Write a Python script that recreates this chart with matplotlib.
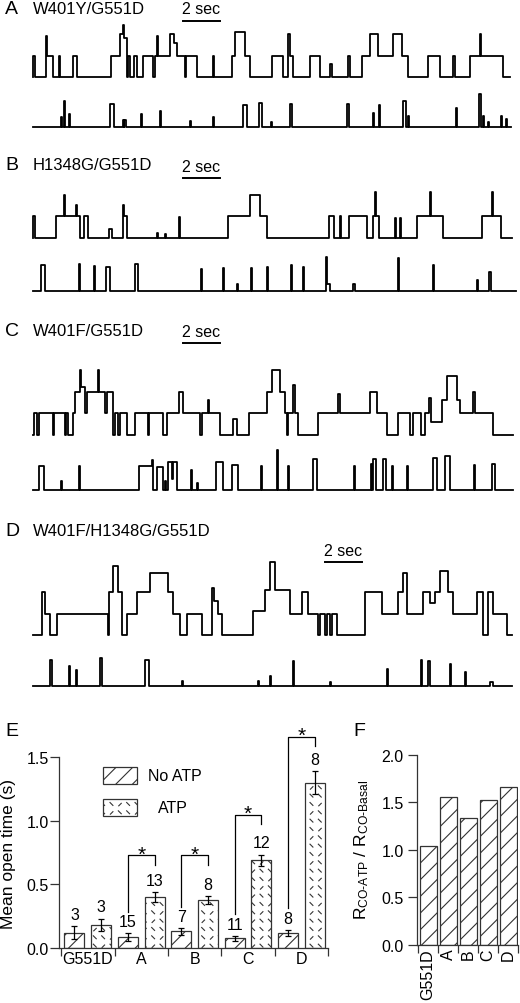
import numpy as np
import matplotlib
matplotlib.use("Agg")
import matplotlib.pyplot as plt
import matplotlib.hatch as mhatch
from matplotlib.path import Path
from matplotlib.patches import Rectangle

plt.rcParams['font.family'] = ['Liberation Sans', 'DejaVu Sans']
plt.rcParams['mathtext.fontset'] = 'custom'
plt.rcParams['mathtext.rm'] = 'Liberation Sans'
plt.rcParams['mathtext.it'] = 'Liberation Sans:italic'
plt.rcParams['hatch.linewidth'] = 0.8

##### data #####################################################
# single channel traces: (start s, end s, level in unitary openings)
a_top = [
    (0.02, 0.13, 1.0), (0.70, 0.77, 1.9), (0.77, 1.06, 1.0), (1.39, 1.46, 1.0),
    (2.14, 2.36, 1.0), (4.20, 4.70, 1.0), (4.70, 4.85, 2.0), (4.85, 4.92, 2.4),
    (4.92, 5.06, 1.8), (5.15, 5.24, 1.0), (5.46, 5.64, 1.0), (5.96, 6.50, 1.0),
    (6.59, 6.68, 1.0), (6.68, 6.77, 1.9), (6.77, 7.41, 1.0), (7.41, 7.60, 2.0),
    (7.60, 7.77, 1.6), (7.77, 8.20, 1.0), (8.25, 8.85, 1.0), (9.71, 9.78, 1.0),
    (10.74, 10.92, 1.0), (10.92, 11.46, 2.1), (11.46, 11.73, 1.0),
    (12.90, 13.53, 1.0), (13.80, 13.89, 2.0), (13.89, 14.07, 1.0),
    (14.97, 15.51, 1.0), (16.05, 16.14, 0.6), (17.05, 17.14, 1.0),
    (17.77, 18.22, 1.0), (18.22, 18.67, 2.0), (18.67, 19.48, 1.0),
    (19.48, 19.93, 2.0), (19.93, 20.29, 1.0), (21.37, 22.00, 1.0),
    (22.72, 22.81, 1.0), (23.62, 24.14, 1.0), (24.14, 24.23, 2.0), (24.23, 25.42, 1.0),
]
a_bot = [
    (1.50, 1.56, 0.45), (1.68, 1.74, 1.2), (1.95, 2.01, 0.6), (4.16, 4.38, 1.05),
    (4.85, 4.91, 0.3), (4.94, 5.00, 0.3), (5.84, 5.90, 0.6), (6.86, 6.92, 0.7),
    (8.49, 8.55, 0.25), (9.71, 9.77, 0.45), (11.37, 11.55, 1.0), (12.20, 12.40, 1.1),
    (12.85, 12.91, 0.2), (13.89, 14.00, 1.05), (16.95, 17.10, 1.05),
    (18.36, 18.42, 0.65), (18.68, 18.74, 1.0), (19.98, 20.16, 1.2), (20.29, 20.35, 0.5),
    (22.86, 22.92, 0.85), (24.13, 24.19, 1.5), (24.34, 24.40, 0.5), (24.61, 24.67, 0.2),
    (25.28, 25.34, 0.5), (25.57, 25.63, 0.35),
]
b_top = [
    (0.02, 0.09, 1.0), (1.24, 1.68, 1.0), (1.68, 1.74, 2.0), (1.74, 2.32, 1.0),
    (2.32, 2.38, 1.5), (2.38, 2.54, 1.0), (2.76, 2.99, 1.0), (4.13, 4.25, 0.4),
    (4.85, 4.91, 1.5), (4.91, 5.06, 1.0), (6.68, 6.74, 0.2), (7.14, 7.20, 0.15),
    (7.89, 7.95, 0.95), (10.56, 11.73, 1.0), (11.73, 12.27, 2.0), (12.27, 12.63, 1.0),
    (16.00, 16.27, 1.0), (16.59, 16.65, 1.0), (17.10, 18.04, 1.0),
    (18.40, 18.49, 1.0), (18.49, 18.55, 2.1), (18.55, 18.72, 1.0),
    (19.57, 19.63, 0.9), (19.84, 19.90, 0.9), (20.77, 21.46, 1.0),
    (21.46, 21.52, 2.1), (21.52, 22.18, 1.0), (24.25, 24.79, 1.0),
    (24.79, 24.85, 2.1), (24.85, 25.28, 1.0),
]
b_bot = [
    (0.41, 0.65, 1.2), (2.49, 2.55, 1.25), (3.30, 3.36, 1.15), (3.95, 4.16, 1.1),
    (5.51, 5.69, 1.25), (9.06, 9.12, 1.0), (10.25, 10.31, 1.05), (11.01, 11.07, 0.3),
    (11.78, 11.84, 1.05), (12.63, 12.69, 1.1), (13.95, 14.01, 1.2), (14.58, 14.64, 1.1),
    (15.84, 15.90, 1.55), (15.90, 16.05, 0.3), (17.32, 17.38, 0.3),
    (19.75, 19.81, 1.5), (21.64, 21.70, 1.2), (24.02, 24.08, 0.5), (24.67, 24.73, 0.85),
]
c_top = [
    (0.05, 0.20, 1.0), (0.34, 1.10, 1.0), (1.15, 1.73, 1.0), (1.78, 1.91, 1.0),
    (2.18, 2.27, 1.0), (2.27, 2.54, 2.0), (2.54, 2.61, 3.0), (2.61, 2.81, 2.2),
    (2.81, 2.94, 1.0), (2.94, 3.50, 2.0), (3.50, 3.57, 3.0), (3.57, 3.89, 2.0),
    (3.89, 3.98, 1.0), (3.98, 4.34, 2.0), (4.43, 4.61, 1.0), (4.70, 5.06, 1.0),
    (5.51, 6.23, 1.0), (6.29, 7.05, 1.0), (7.23, 7.91, 1.0), (7.91, 8.13, 2.0),
    (8.13, 9.03, 1.0), (9.12, 9.48, 1.0), (9.48, 9.53, 1.6), (9.53, 10.11, 1.0),
    (10.83, 11.05, 0.7), (11.69, 12.63, 1.0), (12.63, 12.90, 2.0), (12.90, 13.35, 3.0),
    (13.35, 13.62, 2.0), (13.62, 13.71, 1.0), (13.80, 14.07, 1.0), (14.07, 14.14, 2.3),
    (14.14, 14.34, 1.0), (15.42, 16.50, 1.0), (16.50, 16.58, 1.9), (16.58, 18.22, 1.0),
    (18.22, 18.58, 2.0), (18.58, 19.12, 1.0), (19.75, 20.38, 1.0), (20.56, 20.95, 1.0),
    (21.19, 21.42, 1.0), (21.42, 21.50, 1.7), (21.50, 22.09, 0.6), (22.09, 22.36, 1.6),
    (22.36, 22.90, 2.7), (22.90, 23.08, 1.6), (23.08, 23.80, 1.0), (23.80, 23.87, 2.0),
    (23.87, 24.88, 1.0),
]
c_bot = [
    (0.34, 0.59, 1.1), (1.50, 1.56, 0.4), (2.50, 2.56, 1.1), (5.75, 6.41, 1.1),
    (6.41, 6.47, 1.35), (6.68, 7.05, 1.05), (7.14, 7.20, 0.4), (7.32, 7.50, 1.3),
    (7.50, 7.59, 0.5), (7.59, 7.77, 1.3), (8.52, 8.58, 0.9), (8.85, 8.91, 0.3),
    (9.89, 10.25, 1.3), (10.77, 11.10, 1.15), (12.32, 12.38, 1.1), (13.17, 13.23, 1.85),
    (13.80, 13.86, 1.1), (15.15, 15.33, 1.4), (17.35, 17.41, 1.1), (18.25, 18.31, 1.2),
    (18.36, 18.54, 1.4), (18.90, 19.08, 1.4), (19.39, 19.45, 1.1), (20.20, 20.26, 1.1),
    (21.64, 21.82, 1.45), (22.27, 22.54, 1.55), (23.84, 23.90, 1.15), (24.79, 24.97, 1.2),
]
d_top = [
    (0.47, 0.65, 2.0), (0.65, 0.92, 1.0), (1.28, 4.07, 1.0), (4.13, 4.34, 2.0),
    (4.34, 4.61, 3.2), (4.61, 4.79, 2.0), (5.06, 5.60, 1.0), (5.60, 6.32, 2.0),
    (6.32, 7.32, 2.9), (7.32, 7.59, 2.0), (7.59, 7.95, 1.0), (8.31, 9.12, 1.0),
    (9.66, 9.80, 2.2), (9.80, 10.02, 1.6), (10.02, 10.20, 1.0), (11.91, 12.54, 1.1),
    (12.54, 12.81, 2.1), (12.81, 13.08, 3.4), (13.08, 13.89, 2.1), (13.89, 14.52, 1.0),
    (14.52, 14.88, 2.0), (14.88, 15.42, 1.0), (15.51, 15.78, 1.0), (15.87, 16.05, 1.0),
    (16.14, 16.41, 1.0), (17.95, 18.85, 2.0), (18.85, 19.75, 1.0), (19.75, 20.02, 2.0),
    (20.02, 20.20, 2.9), (20.20, 21.10, 1.0), (21.10, 21.46, 2.0), (21.46, 21.73, 1.5),
    (21.73, 22.00, 2.0), (22.00, 22.45, 3.0), (22.45, 22.72, 2.0), (22.72, 23.98, 1.0),
    (23.98, 24.34, 2.0), (24.61, 24.88, 2.0), (24.88, 25.60, 1.0),
]
d_bot = [
    (0.92, 1.03, 1.2), (1.95, 2.01, 0.9), (2.31, 2.37, 0.7), (3.62, 3.75, 1.3),
    (6.05, 6.27, 1.2), (8.04, 8.10, 0.2), (12.18, 12.24, 0.2), (12.81, 12.87, 0.45),
    (14.04, 14.10, 1.15), (16.05, 16.11, 0.15), (19.12, 19.18, 0.75),
    (20.95, 21.01, 1.2), (21.37, 21.48, 1.15), (22.54, 22.60, 1.0), (23.35, 23.41, 0.65),
    (24.70, 24.85, 0.15),
]
trace_end = [25.78, 25.85, 25.87, 26.11, 25.96, 25.96, 25.87, 25.87]

panel_names = ['W401Y/G551D', 'H1348G/G551D', 'W401F/G551D', 'W401F/H1348G/G551D']

# E: mean open time
groups = ['G551D', 'A', 'B', 'C', 'D']
open_noatp = [0.12, 0.085, 0.13, 0.075, 0.12]
open_noatp_err = [0.05, 0.03, 0.025, 0.02, 0.022]
open_atp = [0.18, 0.40, 0.38, 0.69, 1.30]
open_atp_err = [0.05, 0.04, 0.03, 0.045, 0.09]
n_noatp = [3, 15, 7, 11, 8]
n_atp = [3, 13, 8, 12, 8]
sig_top = [0.73, 0.73, 1.05, 1.66]   # brackets for A-D

# F: ratio
ratio = [1.04, 1.56, 1.34, 1.53, 1.66]
###############################################################


class DashHatch(mhatch.HatchPatternBase):
    # short broken dashes, used instead of the small circles for 'o'
    def __init__(self, hatch, density):
        self.cells = int(hatch.count('o') * density * 2)
        self.num_vertices = self.cells * self.cells * 2

    def set_vertices_and_codes(self, vertices, codes):
        n = self.cells
        c = 1.0 / n
        k = 0
        for i in range(n):
            for j in range(n):
                x, y = i * c, j * c
                if (i + 2 * j) % 3 == 0:
                    vertices[k] = (x + 0.25 * c, y + 0.30 * c)
                    vertices[k + 1] = (x + 0.55 * c, y + 0.60 * c)
                else:
                    vertices[k] = (x + 0.20 * c, y + 0.70 * c)
                    vertices[k + 1] = (x + 0.55 * c, y + 0.35 * c)
                codes[k] = Path.MOVETO
                codes[k + 1] = Path.LINETO
                k += 2


mhatch._hatch_types[mhatch._hatch_types.index(mhatch.SmallCircles)] = DashHatch

W, H = 520, 1004
fig = plt.figure(figsize=(W / 100, H / 100), dpi=100)


def box(x0, y_top, x1, y_bot):
    return [x0 / W, 1 - y_bot / H, (x1 - x0) / W, (y_bot - y_top) / H]


def steps(events, t_end):
    t, y = [0.0], [0.0]
    for s, e, lv in events:
        if abs(s - t[-1]) < 1e-9:
            y[-1] = lv
        else:
            t.append(s)
            y.append(lv)
        t.append(e)
        y.append(0.0)
    t.append(t_end)
    y.append(0.0)
    return np.array(t), np.array(y)


U = 21.5        # px per unitary opening
PX_S = 18.5     # px per second
X0 = 33


def trace_axes(events, t_end, base, ytop):
    ax = fig.add_axes(box(30, base - ytop * U, 518, base + 0.7 * U))
    t, y = steps(events, t_end)
    ax.plot(t, y, drawstyle='steps-post', color='black', lw=1.3)
    ax.set_xlim((30 - X0) / PX_S, (518 - X0) / PX_S)
    ax.set_ylim(-0.7, ytop)
    ax.axis('off')
    return ax


tops = [a_top, b_top, c_top, d_top]
bots = [a_bot, b_bot, c_bot, d_bot]
bases = [(78, 127.5), (238.5, 291.5), (435.5, 490.5), (636, 686.5)]
title_y = [10, 166, 332, 532]
bar_y = [21.7, 179, 344, 563.3]
bar_x = [183, 183, 183, 325]
letters = ['A', 'B', 'C', 'D']

for i in range(4):
    ax1 = trace_axes(tops[i], trace_end[2 * i], bases[i][0], 3.6)
    trace_axes(bots[i], trace_end[2 * i + 1], bases[i][1], 1.9)
    fig.text(5 / W, 1 - title_y[i] / H, letters[i], fontsize=14, va='center', ha='left')
    fig.text(33 / W, 1 - title_y[i] / H, panel_names[i], fontsize=12, va='center', ha='left')
    # 2 sec scale bar
    t0 = (bar_x[i] - X0) / PX_S
    yb = (bases[i][0] - bar_y[i]) / U
    ax1.plot([t0, t0 + 2], [yb, yb], color='black', lw=1.4, clip_on=False)
    ax1.annotate('2 sec', (t0 + 1, yb), xytext=(0, 8.5), textcoords='offset points',
                 ha='center', va='center', fontsize=11.5, annotation_clip=False)

fig.text(5 / W, 1 - 731 / H, 'E', fontsize=14, va='center', ha='left')
fig.text(353 / W, 1 - 731 / H, 'F', fontsize=14, va='center', ha='left')

edge = '#333333'

# ---- E ----
axE = fig.add_axes(box(59, 758.3, 328, 949))
x = np.arange(len(groups))
bw = 0.375
axE.bar(x - 0.25, open_noatp, bw, color='white', edgecolor=edge, hatch='//', lw=0.9, zorder=2)
axE.bar(x + 0.25, open_atp, bw, color='white', edgecolor=edge, hatch='o', lw=0.9, zorder=2)
axE.errorbar(x - 0.25, open_noatp, yerr=open_noatp_err, fmt='none', ecolor='black',
             elinewidth=0.9, capsize=2.5, capthick=0.9, zorder=3)
axE.errorbar(x + 0.25, open_atp, yerr=open_atp_err, fmt='none', ecolor='black',
             elinewidth=0.9, capsize=2.5, capthick=0.9, zorder=3)
for i in range(len(groups)):
    axE.annotate(str(n_noatp[i]), (x[i] - 0.25, open_noatp[i] + open_noatp_err[i]),
                 xytext=(0, 8.5), textcoords='offset points', ha='center', va='center',
                 fontsize=11.5, annotation_clip=False)
    axE.annotate(str(n_atp[i]), (x[i] + 0.25, open_atp[i] + open_atp_err[i]),
                 xytext=(0, 8.5), textcoords='offset points', ha='center', va='center',
                 fontsize=11.5, annotation_clip=False)
for g in range(1, 5):
    xl, xr = x[g] - 0.25, x[g] + 0.25
    top = sig_top[g - 1]
    lb = open_noatp[g] + open_noatp_err[g] + 0.17
    rb = top - 0.075
    axE.plot([xl, xl, xr, xr], [lb, top, top, rb], color='black', lw=0.9, clip_on=False)
    axE.annotate('*', ((xl + xr) / 2, top), xytext=(0, -3), textcoords='offset points',
                 ha='center', va='baseline', fontsize=15, annotation_clip=False)

axE.set_xlim(-0.54, 4.5)
axE.set_ylim(0, 1.5)
axE.set_yticks([0, 0.5, 1.0, 1.5])
axE.set_yticklabels(['0.0', '0.5', '1.0', '1.5'])
axE.set_xticks(x)
axE.set_xticklabels(groups)
axE.set_xticks(np.arange(-0.5, 5, 1), minor=True)
axE.tick_params(axis='x', which='major', length=0, pad=2.5, labelsize=11.5)
axE.tick_params(axis='x', which='minor', length=6, width=0.9, direction='out', color=edge)
axE.tick_params(axis='y', length=6.5, width=0.9, direction='out', pad=1, labelsize=11.5, color=edge)
for s in ['top', 'right']:
    axE.spines[s].set_visible(False)
for s in ['left', 'bottom']:
    axE.spines[s].set_color(edge)
    axE.spines[s].set_linewidth(0.9)
fig.text(9 / W, 1 - 854 / H, 'Mean open time (s)', rotation=90, ha='center', va='center',
         fontsize=12.5)

# legend drawn by hand to keep the indented ATP label
axE.add_patch(Rectangle((0.1636, 0.860), 0.126, 0.089, transform=axE.transAxes,
                        facecolor='white', edgecolor=edge, hatch='//', lw=0.9, clip_on=False))
axE.add_patch(Rectangle((0.1636, 0.692), 0.126, 0.089, transform=axE.transAxes,
                        facecolor='white', edgecolor=edge, hatch='o', lw=0.9, clip_on=False))
axE.text(0.331, 0.905, 'No ATP', transform=axE.transAxes, va='center', ha='left', fontsize=11.5)
axE.text(0.368, 0.737, 'ATP', transform=axE.transAxes, va='center', ha='left', fontsize=11.5)

# ---- F ----
axF = fig.add_axes(box(416.7, 756, 518, 945.7))
axF.bar(x, ratio, 0.85, color='white', edgecolor=edge, hatch='//', lw=0.9)
axF.set_xlim(-0.57, 4.5)
axF.set_ylim(0, 2.0)
axF.set_yticks([0, 0.5, 1.0, 1.5, 2.0])
axF.set_yticklabels(['0.0', '0.5', '1.0', '1.5', '2.0'])
axF.set_xticks(x)
axF.set_xticklabels(groups, rotation=90)
axF.set_xticks(np.arange(-0.5, 5, 1), minor=True)
axF.tick_params(axis='x', which='major', length=0, pad=3, labelsize=11.5)
axF.tick_params(axis='x', which='minor', length=6, width=0.9, direction='out', color=edge)
axF.tick_params(axis='y', length=6.5, width=0.9, direction='out', pad=3, labelsize=11.5, color=edge)
for s in ['top', 'right']:
    axF.spines[s].set_visible(False)
for s in ['left', 'bottom']:
    axF.spines[s].set_color(edge)
    axF.spines[s].set_linewidth(0.9)
fig.text(362 / W, 1 - 850 / H,
         r'R$_{\mathrm{CO\text{-}ATP}}$ / R$_{\mathrm{CO\text{-}Basal}}$',
         rotation=90, ha='center', va='center', fontsize=12.5)

fig.savefig('out.png', dpi=100)
